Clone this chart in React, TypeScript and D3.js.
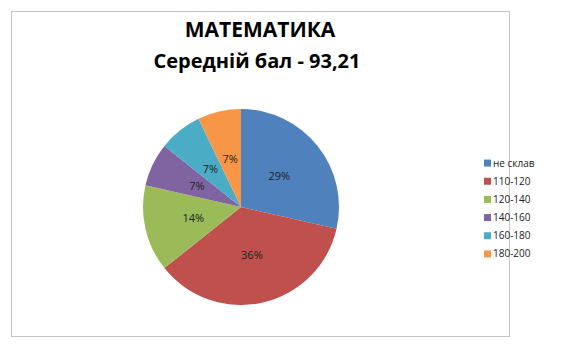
import React from "react";
import * as d3 from "d3";

const categories = ["не склав", "110-120", "120-140", "140-160", "160-180", "180-200"];
const counts = [4, 5, 2, 1, 1, 1];
const colors = ["#4F81BD", "#C0504D", "#9BBB59", "#8064A2", "#4BACC6", "#F79646"];
const title = "МАТЕМАТИКА";
const subtitle = "Середній бал - 93,21";

export default function App() {
  const W = 567, H = 351;
  const cx = 241, cy = 207, r = 98;
  const total = d3.sum(counts);
  const pie = d3.pie<number>().sort(null).value((d) => d)(counts);
  const arc = d3.arc<d3.PieArcDatum<number>>().innerRadius(0).outerRadius(r);
  const labelArc = d3.arc<d3.PieArcDatum<number>>().innerRadius(r * 0.5).outerRadius(r * 0.5);
  const font = "'Open Sans', 'Noto Sans', sans-serif";
  const legendY = d3.scaleBand<string>().domain(categories).range([154, 263]);
  return (
    <svg width={W} height={H} style={{ position: "absolute", left: 0, top: 0 }}>
      <rect x={0} y={0} width={W} height={H} fill="#fff" />
      <rect x={11.5} y={11.5} width={498} height={325} fill="#fff" stroke="#c4c4c4" strokeWidth={1} />
      <text x={260} y={37} textAnchor="middle" fontFamily={font} fontWeight="bold" fontSize={21} fill="#000">{title}</text>
      <text x={257} y={68} textAnchor="middle" fontFamily={font} fontWeight="bold" fontSize={20} fill="#000">{subtitle}</text>
      <g transform={`translate(${cx},${cy})`}>
        {pie.map((p, i) => (
          <path key={i} d={arc(p) || ""} fill={colors[i]} />
        ))}
        {pie.map((p, i) => {
          const [x, y] = labelArc.centroid(p);
          return (
            <text key={"l" + i} x={x} y={y} dy="0.35em" textAnchor="middle" fontFamily={font} fontSize={11} fill="#222">
              {Math.round((p.value / total) * 100) + "%"}
            </text>
          );
        })}
      </g>
      <g>
        {categories.map((c, i) => {
          const y = (legendY(c) || 0) + legendY.bandwidth() / 2;
          return (
            <g key={c}>
              <rect x={484} y={y - 3.5} width={7} height={7} fill={colors[i]} />
              <text x={493} y={y} dy="0.35em" fontFamily={font} fontSize={10} fill="#222">{c}</text>
            </g>
          );
        })}
      </g>
    </svg>
  );
}
